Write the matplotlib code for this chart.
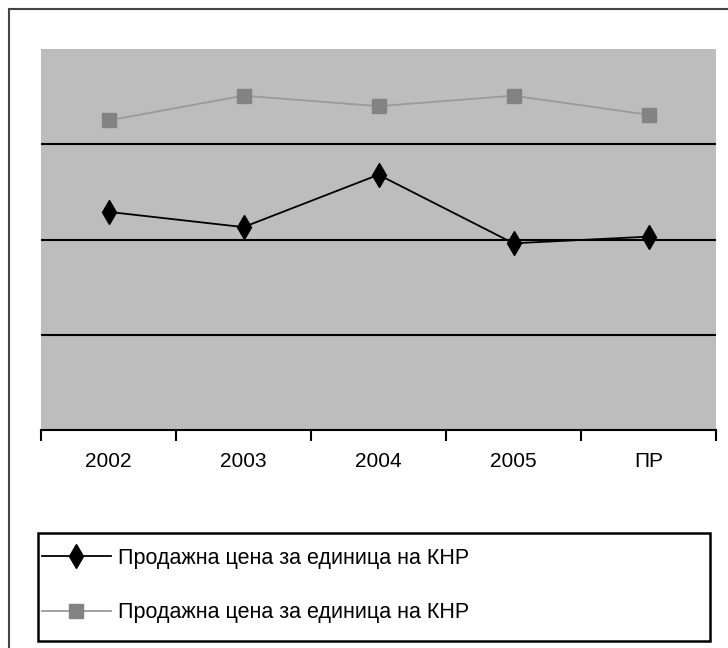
import matplotlib.pyplot as plt
import matplotlib.patches as mpatches
import numpy as np

plt.rcParams['font.family'] = ['Liberation Sans', 'DejaVu Sans']

categories = ['2002', '2003', '2004', '2005', 'ПР']
series_black = [2.29, 2.13, 2.68, 1.96, 2.03]
series_gray = [3.25, 3.51, 3.40, 3.51, 3.31]
legend_labels = ['Продажна цена за единица на КНР', 'Продажна цена за единица на КНР']

W, H = 728, 648
fig = plt.figure(figsize=(W / 100, H / 100), dpi=100)

# outer frame of the figure
fig.patches.append(mpatches.Rectangle((9 / W, -0.05), 1.0, (H - 9) / H + 0.05,
                                      transform=fig.transFigure, fill=False,
                                      edgecolor='#444444', linewidth=1.5))

ax = fig.add_axes([41 / W, (H - 430) / H, (716 - 41) / W, (430 - 49) / H])
ax.set_facecolor('#bdbdbd')

x = np.arange(len(categories))
ax.plot(x, series_black, color='black', linewidth=1.3, marker='d', markersize=12,
        markerfacecolor='black', markeredgecolor='black', label=legend_labels[0])
ax.plot(x, series_gray, color='#9a9a9a', linewidth=1.3, marker='s', markersize=10,
        markerfacecolor='#838383', markeredgecolor='#838383', label=legend_labels[1])

ax.set_xlim(-0.5, len(categories) - 0.5)
ax.set_ylim(0, 4)
for yv in [1, 2, 3]:
    ax.axhline(yv, color='black', linewidth=1.5, zorder=1)

ax.set_yticks([])
ax.set_xticks(x)
ax.set_xticklabels(categories, fontsize=15)
ax.tick_params(axis='x', which='major', length=0, pad=16)
ax.set_xticks(np.arange(-0.5, len(categories)), minor=True)
ax.tick_params(axis='x', which='minor', length=8, width=1.5, color='black')

for s in ['top', 'right', 'left']:
    ax.spines[s].set_visible(False)
ax.spines['bottom'].set_linewidth(1.5)

# legend box drawn separately so the padding can differ per side
fig.patches.append(mpatches.Rectangle((38 / W, (H - 641) / H), (710 - 38) / W, 108 / H,
                                      transform=fig.transFigure, fill=False,
                                      edgecolor='black', linewidth=1.8))
leg = fig.legend(loc='upper left', bbox_to_anchor=(42 / W, 1 - 548 / H),
                 fontsize=15.5, handlelength=3.2, handletextpad=0.35, labelspacing=1.55,
                 borderpad=0, frameon=False, borderaxespad=0)

plt.savefig('out.png', dpi=100)
